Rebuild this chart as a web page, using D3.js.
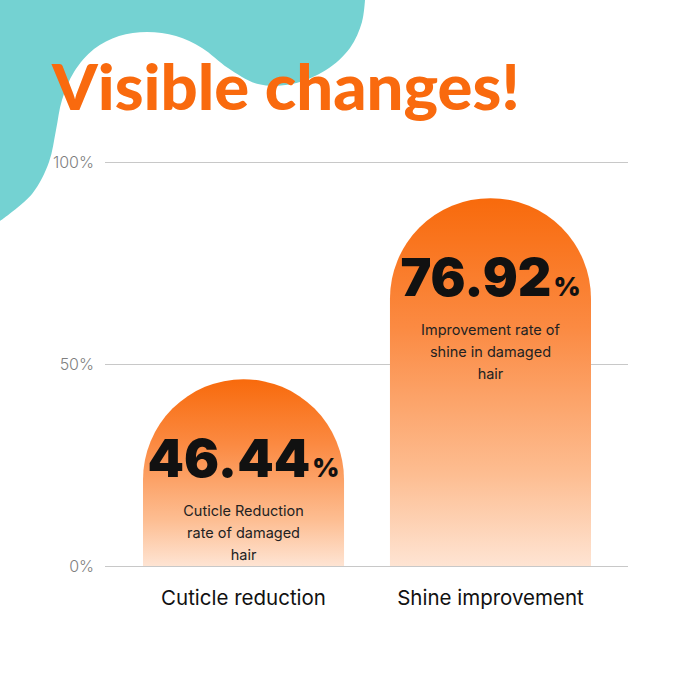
<!DOCTYPE html>
<html>
<head>
<meta charset="utf-8">
<script src="https://cdn.jsdelivr.net/npm/d3@7"></script>
<style>
  html, body { margin: 0; padding: 0; background: #fff; }
  svg { display: block; }
</style>
</head>
<body>
<div class="chart"></div>
<script>
// Chart data
var categories = ["Cuticle reduction", "Shine improvement"];
var values = [46.44, 76.92];
var captions = [["Cuticle Reduction", "rate of damaged", "hair"],
                ["Improvement rate of", "shine in damaged", "hair"]];
var yTicks = [0, 50, 100];
var title = "Visible changes!";

// Outline of the teal blob in the corner
var blobPoints = [[365,0],[362,22],[350,48],[326,70],[292,84],[258,84],[228,68],[202,48],
                  [176,36],[147,32],[119,36],[94,49],[74,72],[62,100],[56,130],[49,162],
                  [32,194],[0,221]];

var width = 679;
var height = 679;
var svg = d3.select(".chart")
    .append("svg")
    .attr("width", width)
    .attr("height", height);

// Background blob
var blobLine = d3.line().curve(d3.curveCatmullRom.alpha(0.5));
svg.append("path")
    .attr("d", blobLine(blobPoints) + "L0,0Z")
    .attr("fill", "#74d2d2");

// Title
svg.append("text")
    .attr("x", 52)
    .attr("y", 110)
    .attr("textLength", 468)
    .attr("lengthAdjust", "spacingAndGlyphs")
    .style("font-family", "Lato, Inter, sans-serif")
    .style("font-weight", 900)
    .style("font-size", "62px")
    .attr("fill", "#f96a0e")
    .text(title);

// Gradient for the bars
var defs = svg.append("defs");
var grad = defs.append("linearGradient")
    .attr("id", "barGrad")
    .attr("x1", 0).attr("y1", 0).attr("x2", 0).attr("y2", 1);
grad.append("stop").attr("offset", 0).attr("stop-color", "#f86a0c");
grad.append("stop").attr("offset", 0.35).attr("stop-color", "#fb8a42");
grad.append("stop").attr("offset", 0.75).attr("stop-color", "#fdbd91");
grad.append("stop").attr("offset", 1).attr("stop-color", "#fee4d3");

// Scales
var yScale = d3.scaleLinear()
    .domain([0, 100])
    .range([566, 162]);
// the bars in the artwork are not drawn to the axis, so they get their own scale
var barScale = d3.scaleLinear()
    .domain([0, 100])
    .range([566 + 89, 61]);
var xScale = d3.scaleBand()
    .domain(categories)
    .range([143, 591])
    .paddingInner(0.186)
    .paddingOuter(0);

// Gridlines and tick labels
var yAxis = d3.axisLeft(yScale)
    .tickValues(yTicks)
    .tickSize(-(628 - 105))
    .tickPadding(11)
    .tickFormat(function(d){ return d + "%"; });
var gy = svg.append("g")
    .attr("transform", "translate(105,0)")
    .call(yAxis);
gy.select(".domain").remove();
gy.selectAll(".tick line")
    .attr("stroke", "#c8c8c8")
    .attr("stroke-width", 1);
gy.selectAll(".tick text")
    .attr("fill", "#7f7f7f")
    .style("font-family", "Inter, 'Open Sans', sans-serif")
    .style("font-weight", 300)
    .style("font-size", "16px");

// Bars with a rounded top
var bw = xScale.bandwidth();
var r = bw / 2;
function barPath(d, i) {
    var x0 = xScale(categories[i]);
    var top = barScale(d);
    var bottom = yScale(0);
    return "M" + x0 + "," + bottom +
           "V" + (top + r) +
           "A" + r + "," + r + " 0 0 1 " + (x0 + bw) + "," + (top + r) +
           "V" + bottom + "Z";
}
svg.selectAll(".bar")
    .data(values)
    .enter()
    .append("path")
    .attr("class", "bar")
    .attr("d", barPath)
    .attr("fill", "url(#barGrad)");

// redraw the baseline over the bars
svg.append("line")
    .attr("x1", 105).attr("x2", 628)
    .attr("y1", yScale(0) + 0.5).attr("y2", yScale(0) + 0.5)
    .attr("stroke", "#c8c8c8");

// Big value labels
var valueText = svg.selectAll(".value")
    .data(values)
    .enter()
    .append("text")
    .attr("class", "value")
    .attr("x", function(d, i){ return xScale(categories[i]) + bw / 2; })
    .attr("y", function(d){ return barScale(d) + 98; })
    .attr("text-anchor", "middle")
    .attr("fill", "#111")
    .style("font-family", "Inter, Lato, sans-serif")
    .style("font-weight", 900);
valueText.append("tspan")
    .style("font-size", "52px")
    .text(function(d){ return d.toFixed(2); });
valueText.append("tspan")
    .style("font-size", "26px")
    .attr("dx", 2)
    .text("%");

// Captions inside the bars
values.forEach(function(d, i) {
    svg.append("text")
        .attr("text-anchor", "middle")
        .attr("fill", "#222")
        .style("font-family", "Inter, 'Open Sans', sans-serif")
        .style("font-size", "14.5px")
        .selectAll("tspan")
        .data(captions[i])
        .enter()
        .append("tspan")
        .attr("x", xScale(categories[i]) + bw / 2)
        .attr("y", function(c, j){ return barScale(d) + 137 + j * 22; })
        .text(function(c){ return c; });
});

// Category labels
svg.selectAll(".cat")
    .data(categories)
    .enter()
    .append("text")
    .attr("class", "cat")
    .attr("x", function(d){ return xScale(d) + bw / 2; })
    .attr("y", 605)
    .attr("text-anchor", "middle")
    .attr("fill", "#111")
    .style("font-family", "Inter, 'Open Sans', sans-serif")
    .style("font-size", "20.5px")
    .text(function(d){ return d; });
</script>
</body>
</html>
